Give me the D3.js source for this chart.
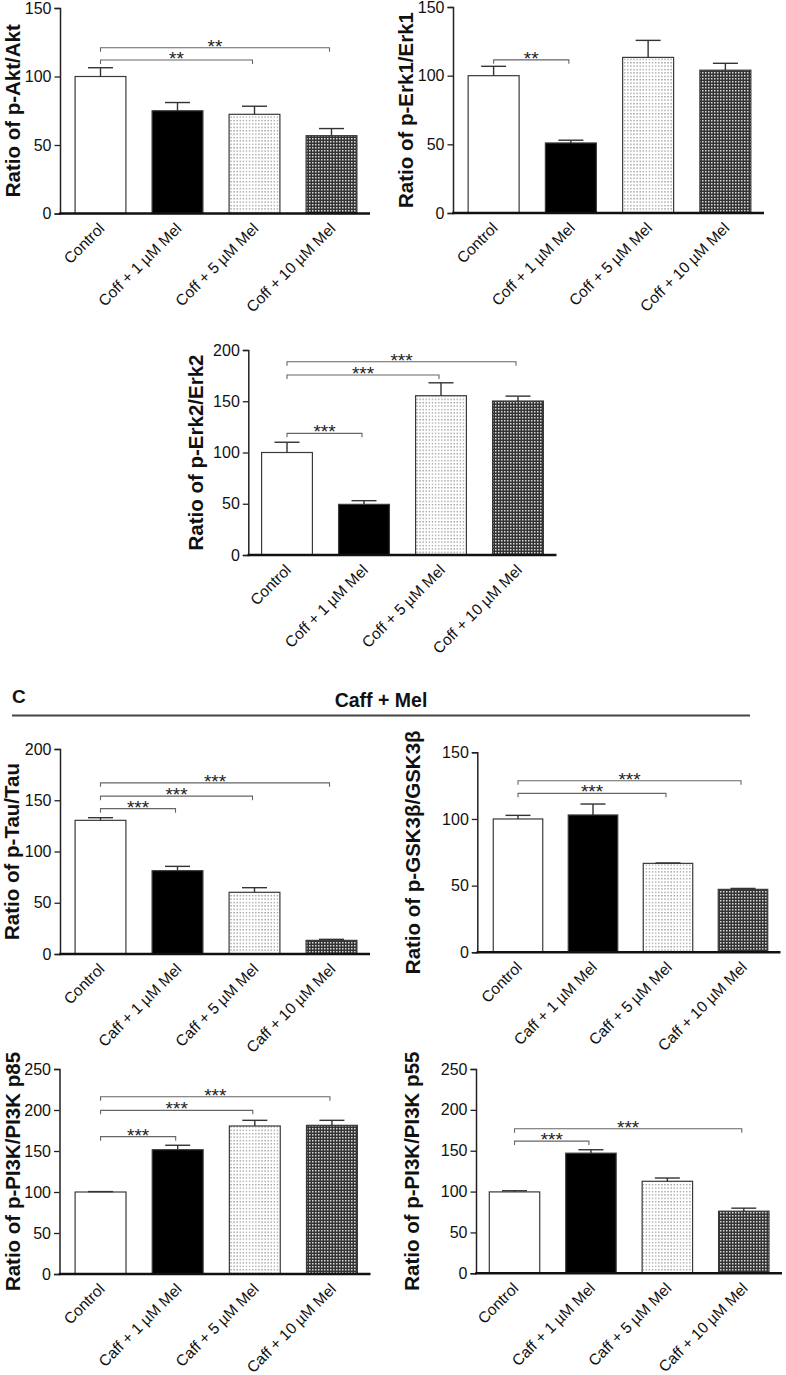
<!DOCTYPE html>
<html>
<head>
<meta charset="utf-8">
<script src="https://cdn.jsdelivr.net/npm/d3@7/dist/d3.min.js"></script>
<style>
  html, body { margin: 0; padding: 0; background: #fff; }
  svg { display: block; font-family: "Liberation Sans", Arial, Helvetica, sans-serif; }
</style>
</head>
<body>
<svg id="fig" width="786" height="1375"></svg>
<script>
// ---------------- DATA ----------------
const groupsCoff = ["Control", "Coff + 1 µM Mel", "Coff + 5 µM Mel", "Coff + 10 µM Mel"];
const groupsCaff = ["Control", "Caff + 1 µM Mel", "Caff + 5 µM Mel", "Caff + 10 µM Mel"];

const ticks150 = [0, 50, 100, 150];
const ticks200 = [0, 50, 100, 150, 200];
const ticks250 = [0, 50, 100, 150, 200, 250];

const aktMean  = [100, 75, 72.4, 56.8];
const aktErr   = [6.4, 6, 5.9, 5.2];
const aktSig   = [[0, 2, 112, "**"], [0, 3, 121, "**"]];

const erk1Mean = [100, 51, 113.3, 104];
const erk1Err  = [6.8, 2, 12.4, 5];
const erk1Sig  = [[0, 1, 111.5, "**"]];

const erk2Mean = [100, 49.4, 155.4, 150.2];
const erk2Err  = [10, 3.6, 12.6, 4.8];
const erk2Sig  = [[0, 1, 118.7, "***"], [0, 2, 175.6, "***"], [0, 3, 188.6, "***"]];

const tauMean  = [130.4, 81.3, 60.2, 13.3];
const tauErr   = [2.6, 4.2, 4.5, 1];
const tauSig   = [[0, 1, 141.8, "***"], [0, 2, 154, "***"], [0, 3, 167, "***"]];

const gskMean  = [100, 103, 66.7, 47.2];
const gskErr   = [2.7, 8.2, 0.3, 0.7];
const gskSig   = [[0, 2, 119.2, "***"], [0, 3, 128.7, "***"]];

const p85Mean  = [100, 151.6, 180.5, 181.3];
const p85Err   = [0.5, 5.4, 6.9, 6.1];
const p85Sig   = [[0, 1, 167.5, "***"], [0, 2, 199.6, "***"], [0, 3, 216.2, "***"]];

const p55Mean  = [99.6, 147, 112.6, 76];
const p55Err   = [1.4, 4.2, 4, 3.7];
const p55Sig   = [[0, 1, 161.8, "***"], [0, 3, 176.9, "***"]];

// ---------------- LAYOUT ----------------
const charts = [
  {title: "Ratio of p-Akt/Akt", groups: groupsCoff, mean: aktMean, err: aktErr, sig: aktSig, ticks: ticks150,
   axisX: 60, bandStart: 62, bandEnd: 370, yTop: 8, yBottom: 213.5, titleX: 12},
  {title: "Ratio of p-Erk1/Erk1", groups: groupsCoff, mean: erk1Mean, err: erk1Err, sig: erk1Sig, ticks: ticks150,
   axisX: 453, bandStart: 455, bandEnd: 764, yTop: 7, yBottom: 213, titleX: 405},
  {title: "Ratio of p-Erk2/Erk2", groups: groupsCoff, mean: erk2Mean, err: erk2Err, sig: erk2Sig, ticks: ticks200,
   axisX: 248.3, bandStart: 248.5, bandEnd: 556.5, yTop: 350, yBottom: 555, titleX: 195},
  {title: "Ratio of p-Tau/Tau", groups: groupsCaff, mean: tauMean, err: tauErr, sig: tauSig, ticks: ticks200,
   axisX: 60, bandStart: 62, bandEnd: 370, yTop: 749, yBottom: 954, titleX: 11},
  {title: "Ratio of p-GSK3β/GSK3β", groups: groupsCaff, mean: gskMean, err: gskErr, sig: gskSig, ticks: ticks150,
   axisX: 477.3, bandStart: 480.5, bandEnd: 780.5, yTop: 752.3, yBottom: 952.3, titleX: 412.5},
  {title: "Ratio of p-PI3K/PI3K p85", groups: groupsCaff, mean: p85Mean, err: p85Err, sig: p85Sig, ticks: ticks250,
   axisX: 59.5, bandStart: 62, bandEnd: 370.5, yTop: 1069, yBottom: 1274, titleX: 12},
  {title: "Ratio of p-PI3K/PI3K p55", groups: groupsCaff, mean: p55Mean, err: p55Err, sig: p55Sig, ticks: ticks250,
   axisX: 476, bandStart: 476.3, bandEnd: 782, yTop: 1069, yBottom: 1273.3, titleX: 411},
];

const svg = d3.select("#fig");

// ---------------- PATTERNS ----------------
const defs = svg.append("defs");
const dots = defs.append("pattern").attr("id", "dots").attr("patternUnits", "userSpaceOnUse")
  .attr("width", 3.1).attr("height", 3.4);
dots.append("rect").attr("width", 3.1).attr("height", 3.4).attr("fill", "#fff");
dots.append("rect").attr("x", 1).attr("y", 1).attr("width", 1.2).attr("height", 1.1).attr("fill", "#7a7a7a");

const checker = defs.append("pattern").attr("id", "checker").attr("patternUnits", "userSpaceOnUse")
  .attr("width", 3).attr("height", 3);
checker.append("rect").attr("width", 3).attr("height", 3).attr("fill", "#333");
checker.append("rect").attr("width", 1.5).attr("height", 1.5).attr("fill", "#d8d8d8");

const fills = ["#fff", "#000", "url(#dots)", "url(#checker)"];

// ---------------- DRAW ----------------
charts.forEach(c => {
  const g = svg.append("g");
  const x = d3.scaleBand().domain(c.groups).range([c.bandStart, c.bandEnd])
    .paddingInner(0.34).paddingOuter(0.17);
  const yMax = c.ticks[c.ticks.length - 1];
  const y = d3.scaleLinear().domain([0, yMax]).range([c.yBottom, c.yTop]);

  // bars
  g.selectAll("rect.bar").data(c.mean).join("rect").attr("class", "bar")
    .attr("x", (d, i) => x(c.groups[i]))
    .attr("width", x.bandwidth())
    .attr("y", d => y(d))
    .attr("height", d => y(0) - y(d))
    .attr("fill", (d, i) => fills[i])
    .attr("stroke", "#3a3a3a").attr("stroke-width", 1.2);

  // error bars (upper only)
  const capW = 25;
  c.mean.forEach((m, i) => {
    const cx = x(c.groups[i]) + x.bandwidth() / 2;
    g.append("line").attr("x1", cx).attr("x2", cx).attr("y1", y(m)).attr("y2", y(m + c.err[i]))
      .attr("stroke", "#333").attr("stroke-width", 1.4);
    g.append("line").attr("x1", cx - capW / 2).attr("x2", cx + capW / 2)
      .attr("y1", y(m + c.err[i])).attr("y2", y(m + c.err[i]))
      .attr("stroke", "#333").attr("stroke-width", 1.4);
  });

  // y axis
  const yAxis = d3.axisLeft(y).tickValues(c.ticks).tickSizeOuter(0).tickSize(5.5).tickPadding(3);
  const ya = g.append("g").attr("transform", `translate(${c.axisX},0)`).call(yAxis);
  ya.select(".domain").attr("stroke", "#222").attr("stroke-width", 1.5);
  ya.selectAll(".tick line").attr("stroke", "#222").attr("stroke-width", 1.3);
  ya.selectAll(".tick text").attr("font-size", 16).attr("fill", "#111")
    .attr("font-family", "Liberation Sans, Arial, sans-serif");

  // x axis (labels via d3 axis, custom baseline)
  const xAxis = d3.axisBottom(x).tickSize(0).tickPadding(0);
  const xa = g.append("g").attr("transform", `translate(0,${c.yBottom})`).call(xAxis);
  xa.select(".domain").remove();
  xa.selectAll(".tick text")
    .attr("font-size", 15.5).attr("fill", "#111")
    .attr("font-family", "Liberation Sans, Arial, sans-serif")
    .attr("y", 0).attr("dy", 0)
    .attr("text-anchor", "end")
    .attr("transform", "translate(5,16) rotate(-45)");
  g.append("line").attr("x1", c.axisX - 0.75).attr("x2", c.bandEnd)
    .attr("y1", c.yBottom).attr("y2", c.yBottom)
    .attr("stroke", "#111").attr("stroke-width", 2.4);

  // y title
  const yMid = (c.yTop + c.yBottom) / 2;
  g.append("text")
    .attr("transform", `translate(${c.titleX + 7.5},${yMid}) rotate(-90)`)
    .attr("text-anchor", "middle")
    .attr("font-size", 20.5).attr("font-weight", "bold").attr("fill", "#111")
    .text(c.title);

  // significance brackets
  c.sig.forEach(([a, b, v, lab]) => {
    const xa0 = x(c.groups[a]) + x.bandwidth() / 2;
    const xb0 = x(c.groups[b]) + x.bandwidth() / 2 - 2;
    const yy = y(v);
    g.append("path")
      .attr("d", `M${xa0},${yy + 4}V${yy}H${xb0}V${yy + 4}`)
      .attr("fill", "none").attr("stroke", "#666").attr("stroke-width", 1.1);
    g.append("text").attr("x", (xa0 + xb0) / 2).attr("y", yy + 5)
      .attr("text-anchor", "middle").attr("font-size", 19).attr("fill", "#222")
      .text(lab);
  });
});

// ---------------- SECTION HEADER ----------------
svg.append("text").attr("x", 12).attr("y", 703).attr("font-size", 19).attr("font-weight", "bold")
  .attr("fill", "#111").text("C");
svg.append("text").attr("x", 381).attr("y", 707).attr("text-anchor", "middle")
  .attr("font-size", 19.5).attr("font-weight", "bold").attr("fill", "#111").text("Caff + Mel");
svg.append("line").attr("x1", 12).attr("x2", 750).attr("y1", 715.5).attr("y2", 715.5)
  .attr("stroke", "#444").attr("stroke-width", 2);
</script>
</body>
</html>
